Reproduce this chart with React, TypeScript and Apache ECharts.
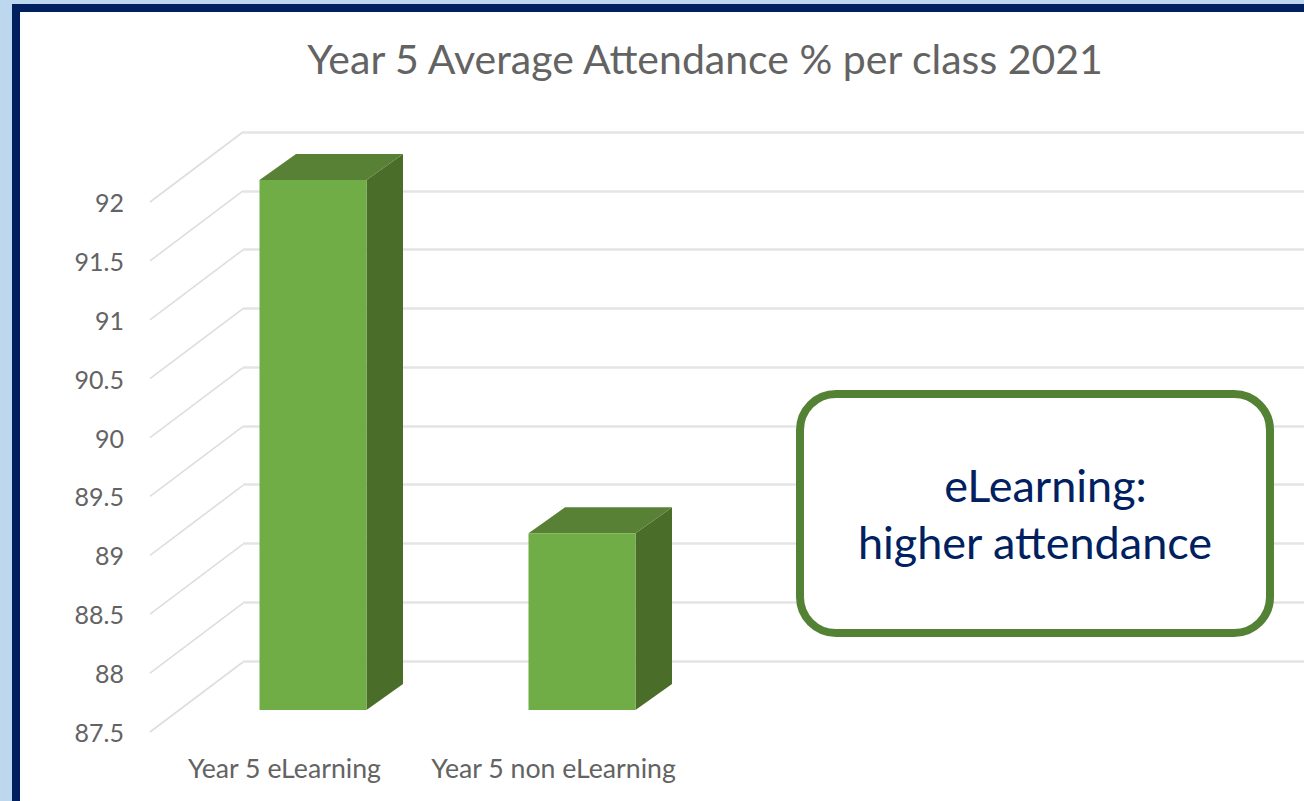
import React, { useEffect, useRef } from "react";
import * as echarts from "echarts";

const titleText = "Year 5 Average Attendance % per class 2021";
const categories = ["Year 5 eLearning", "Year 5 non eLearning"];
const attendance = [92, 89];
const tickValues = [87.5, 88, 88.5, 89, 89.5, 90, 90.5, 91, 91.5, 92];
const calloutLines = ["eLearning:", "higher attendance"];

const FONT = "Lato, 'Open Sans', sans-serif";
const WALL_DX = 93;
const WALL_DY = -70;
const BAR_SHIFT_X = 28.5;
const BAR_SHIFT_Y = -22;
const BAR_W = 107;
const BAR_DX = 36.5;
const BAR_DY = -26;

function renderBar(_params: any, api: any) {
  const i = api.value(0);
  const top = api.coord([i, api.value(1)]);
  const base = api.coord([i, 87.5]);
  const x0 = top[0] + BAR_SHIFT_X - BAR_W / 2;
  const x1 = x0 + BAR_W;
  const yt = top[1] + BAR_SHIFT_Y;
  const yb = base[1] + BAR_SHIFT_Y;
  return {
    type: "group",
    children: [
      {
        type: "polygon",
        shape: { points: [[x1, yt], [x1 + BAR_DX, yt + BAR_DY], [x1 + BAR_DX, yb + BAR_DY], [x1, yb]] },
        style: { fill: "#4A6E2A" },
      },
      {
        type: "polygon",
        shape: { points: [[x0, yt], [x0 + BAR_DX, yt + BAR_DY], [x1 + BAR_DX, yt + BAR_DY], [x1, yt]] },
        style: { fill: "#598135" },
      },
      {
        type: "rect",
        shape: { x: x0, y: yt, width: BAR_W, height: yb - yt },
        style: { fill: "#70AD47" },
      },
    ],
  };
}

function renderWallLine(_params: any, api: any) {
  const p = api.coord([0, api.value(0)]);
  const left = api.coord([0, 87.5]);
  const x = left[0] - 134.5;
  return {
    type: "line",
    shape: { x1: x, y1: p[1], x2: x + WALL_DX, y2: p[1] + WALL_DY },
    style: { stroke: "#DEDEDE", lineWidth: 1.6 },
  };
}

export default function App() {
  const ref = useRef<HTMLDivElement>(null);
  useEffect(() => {
    document.body.style.margin = "0";
    const chart = echarts.init(ref.current!, undefined, { renderer: "svg" });
    chart.setOption({
      animation: false,
      backgroundColor: "#BDD7EE",
      textStyle: { fontFamily: FONT },
      title: {
        text: titleText,
        left: 700,
        top: 33,
        textAlign: "center",
        textStyle: { fontFamily: FONT, fontSize: 41, fontWeight: "normal", color: "#636363" },
      },
      grid: [
        { left: 150, top: 202, width: 538, height: 530 },
        { left: 243, top: 132, width: 1061, height: 529 },
      ],
      xAxis: [
        {
          type: "category",
          gridIndex: 0,
          data: categories,
          axisLine: { show: false },
          axisTick: { show: false },
          axisLabel: { margin: 22, fontSize: 26.7, color: "#636363", fontFamily: FONT, interval: 0 },
        },
        { type: "value", gridIndex: 1, min: 0, max: 1, show: false },
      ],
      yAxis: [
        {
          type: "value",
          gridIndex: 0,
          min: 87.5,
          max: 92,
          interval: 0.5,
          axisLine: { show: false },
          axisTick: { show: false },
          splitLine: { show: false },
          axisLabel: { margin: 26, fontSize: 25, color: "#636363", fontFamily: FONT },
        },
        {
          type: "value",
          gridIndex: 1,
          min: 87.5,
          max: 92,
          interval: 0.5,
          axisLine: { show: false },
          axisTick: { show: false },
          axisLabel: { show: false },
          splitLine: { show: true, lineStyle: { color: "#E4E4E4", width: 2.5 } },
        },
      ],
      series: [
        {
          type: "custom",
          xAxisIndex: 0,
          yAxisIndex: 0,
          data: tickValues.map((v) => [v]),
          encode: { y: 0 },
          clip: false,
          silent: true,
          z: 1,
          renderItem: renderWallLine,
        },
        {
          type: "custom",
          xAxisIndex: 0,
          yAxisIndex: 0,
          data: attendance.map((v, i) => [i, v]),
          encode: { x: 0, y: 1 },
          clip: false,
          z: 3,
          renderItem: renderBar,
        },
      ],
      graphic: [
        {
          type: "rect",
          z: -2,
          silent: true,
          shape: { x: 16, y: 8, width: 1400, height: 900 },
          style: { fill: "#FFFFFF", stroke: "#002060", lineWidth: 8 },
        },
        {
          type: "rect",
          z: 10,
          shape: { x: 800, y: 394, width: 470, height: 239, r: 36 },
          style: { fill: "#FFFFFF", stroke: "#548235", lineWidth: 8 },
        },
        {
          type: "text",
          z: 11,
          x: 1045.5,
          y: 485,
          style: {
            text: calloutLines[0],
            fill: "#002060",
            font: `45px ${FONT}`,
            textAlign: "center",
            textVerticalAlign: "middle",
          },
        },
        {
          type: "text",
          z: 11,
          x: 1035,
          y: 542,
          style: {
            text: calloutLines[1],
            fill: "#002060",
            font: `45px ${FONT}`,
            textAlign: "center",
            textVerticalAlign: "middle",
          },
        },
      ],
    });
    return () => chart.dispose();
  }, []);
  return <div ref={ref} style={{ position: "fixed", left: 0, top: 0, width: 1304, height: 801 }} />;
}
